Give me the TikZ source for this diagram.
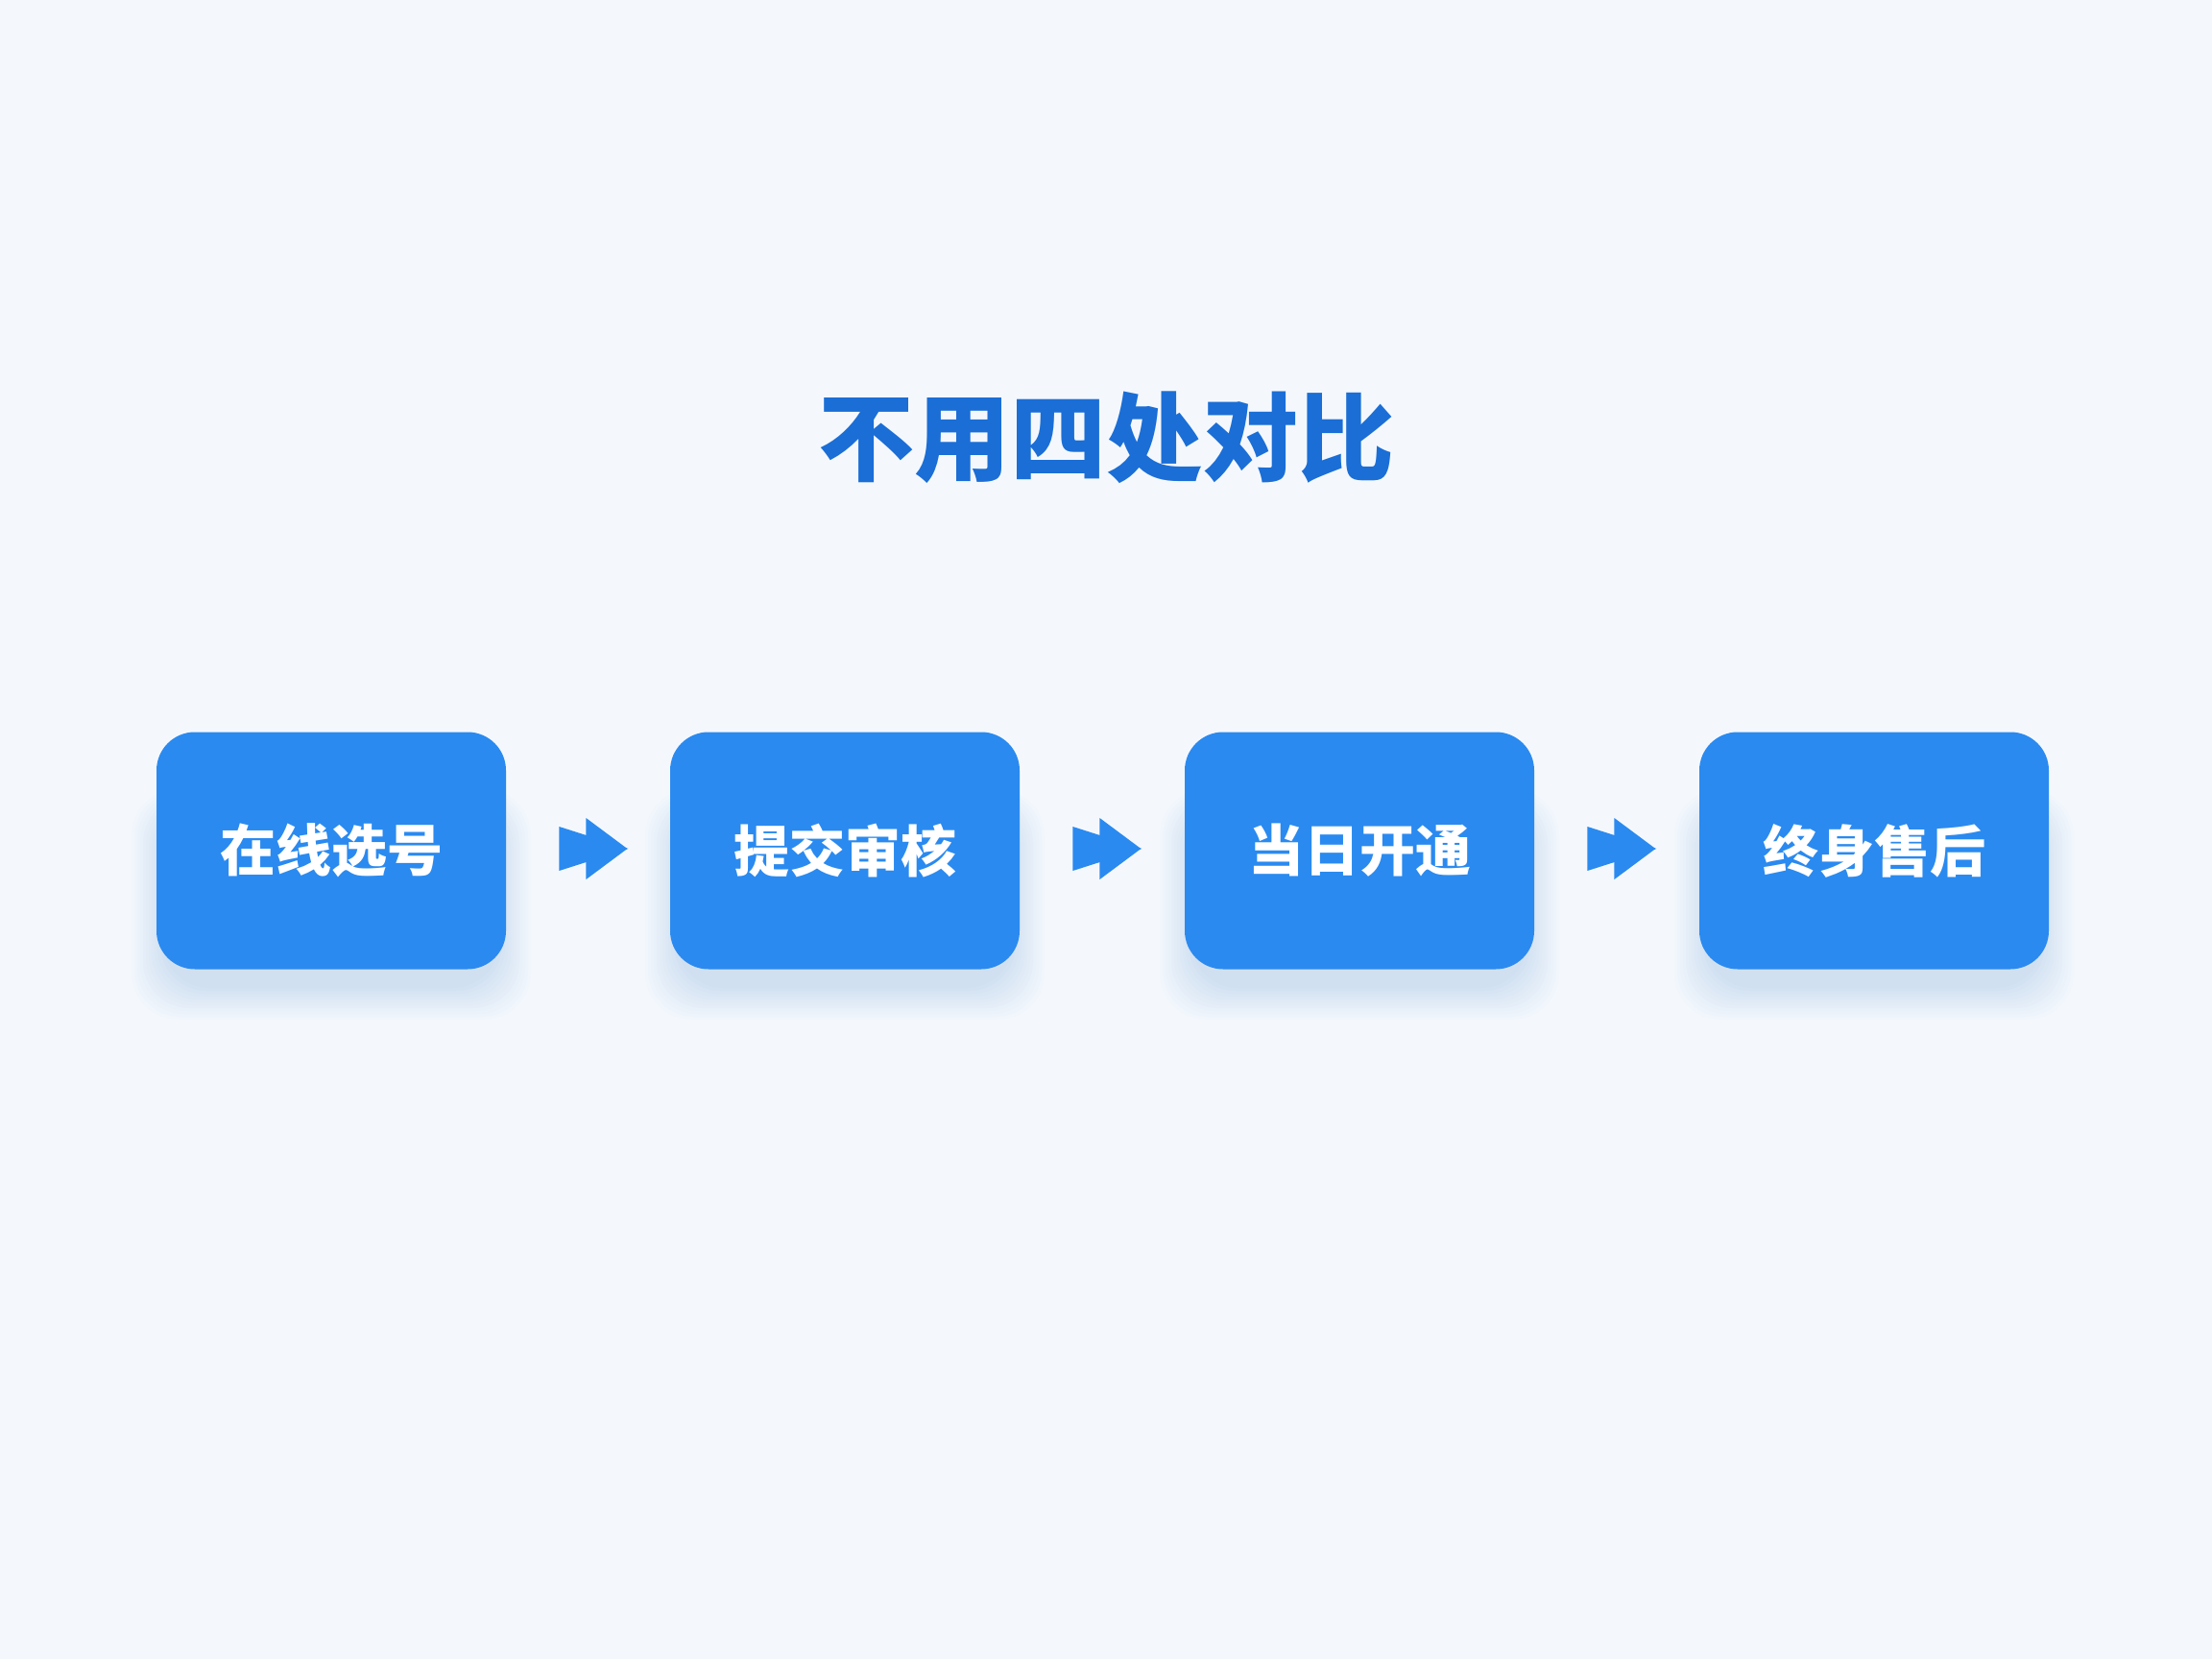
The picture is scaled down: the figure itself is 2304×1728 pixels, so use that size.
\documentclass[tikz,border=0pt]{standalone}
\usepackage{fontspec}
\setmainfont{Noto Sans CJK SC}
\usetikzlibrary{calc}
\definecolor{bg}{HTML}{F4F8FD}
\definecolor{boxblue}{HTML}{2A8AF0}
\definecolor{titleblue}{HTML}{1A6ED6}
\definecolor{glow}{HTML}{7FB0EE}
\tikzset{
  stepbox/.style={minimum width=182pt, minimum height=123.5pt, rounded corners=20pt,
    fill=boxblue, text=white, inner sep=0pt, font=\bfseries\fontsize{29}{29}\selectfont},
  titletext/.style={text=titleblue, font=\bfseries\fontsize{50}{50}\selectfont},
  chevron/.style={fill=boxblue}
}
\begin{document}
\begin{tikzpicture}[x=0.5pt,y=-0.5pt]
\fill[bg] (0,0) rectangle (2304,1728);
\useasboundingbox (0,0) rectangle (2304,1728);
% soft glow beneath the boxes
\foreach \cx in {345,880,1416,1952}{
  \foreach \j in {1,...,12}{
    \fill[glow, opacity=0.022, rounded corners=24pt]
      (\cx-172-\j*3, 886-40-\j*2) rectangle (\cx+172+\j*3, 886+140+\j*3);
  }
}
\node[titletext] (title) at (1152,456) {不用四处对比};
\node[stepbox] (b1) at (345,886) {在线选号};
\node[stepbox] (b2) at (880,886) {提交审核};
\node[stepbox] (b3) at (1416,886) {当日开通};
\node[stepbox] (b4) at (1952,886) {终身售后};
\foreach \a/\b in {b1/a1,b2/a2,b3/a3}{
  \coordinate (\b) at ($(\a.east)+(55,-2)$);
  \fill[chevron] (\b) ++(0,-23) -- ++(72,23) -- ++(-72,23) -- cycle;
  \fill[chevron] (\b) ++(28,-32) -- ++(43,32) -- ++(-43,32) -- cycle;
}
\end{tikzpicture}
\end{document}
